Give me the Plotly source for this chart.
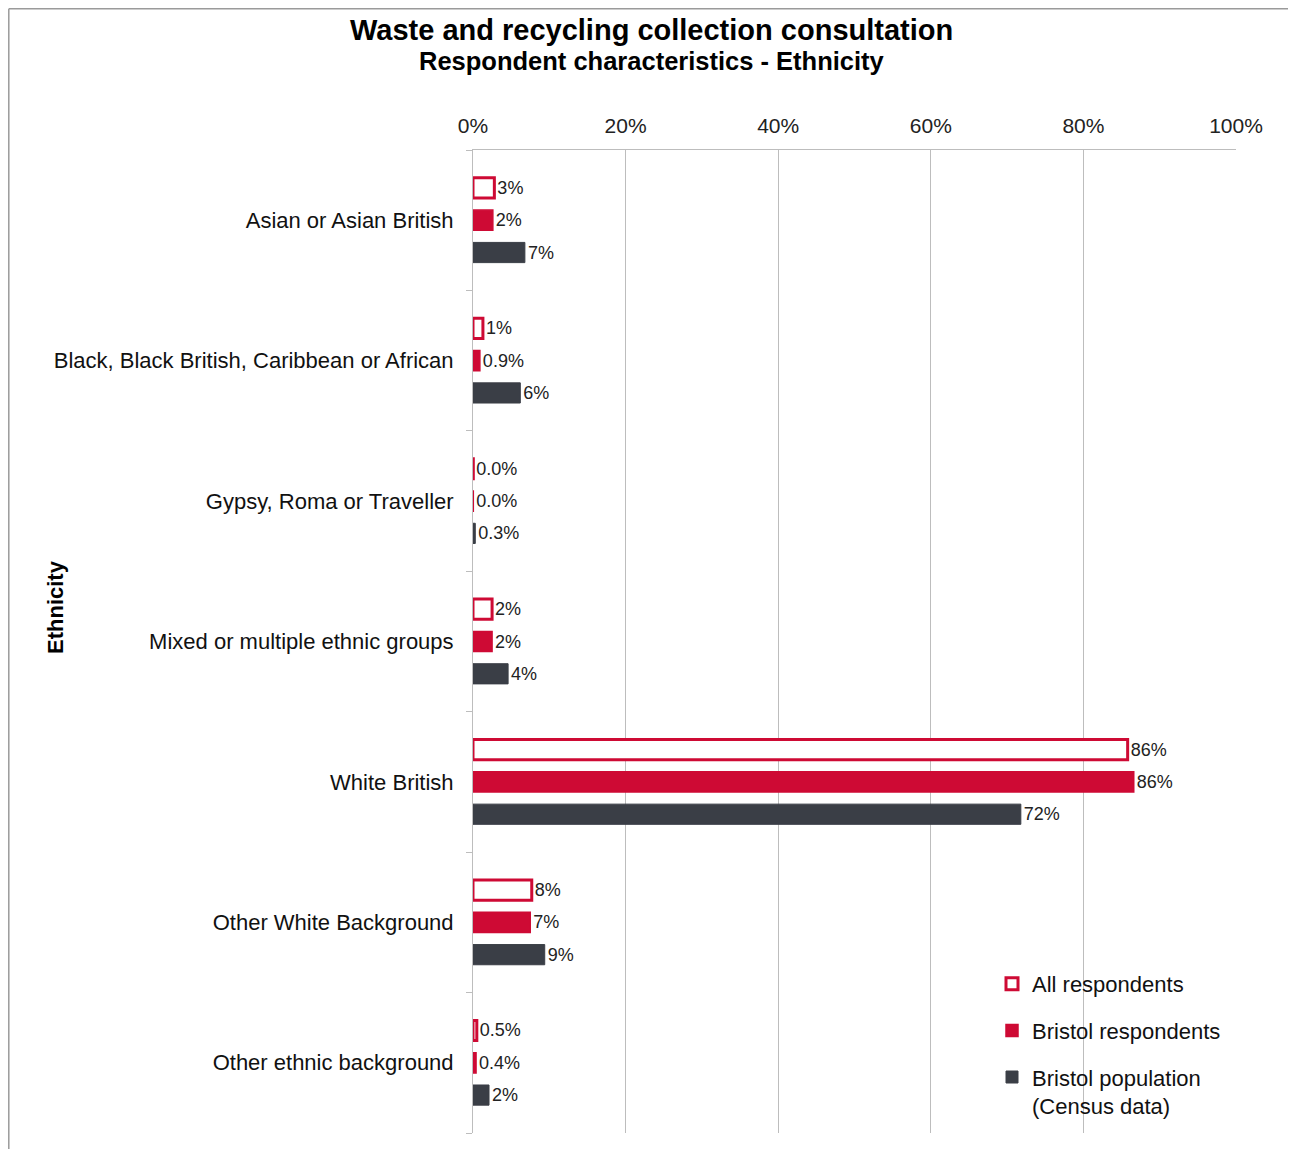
import plotly.graph_objects as go

categories = [
    "Asian or Asian British",
    "Black, Black British, Caribbean or African",
    "Gypsy, Roma or Traveller",
    "Mixed or multiple ethnic groups",
    "White British",
    "Other White Background",
    "Other ethnic background",
]
all_resp = [2.8, 1.3, 0.04, 2.5, 85.8, 7.7, 0.5]
all_labels = ["3%", "1%", "0.0%", "2%", "86%", "8%", "0.5%"]
bristol_resp = [2.6, 0.9, 0.04, 2.5, 86.6, 7.5, 0.4]
bristol_labels = ["2%", "0.9%", "0.0%", "2%", "86%", "7%", "0.4%"]
census = [6.8, 6.2, 0.3, 4.6, 71.8, 9.4, 2.1]
census_labels = ["7%", "6%", "0.3%", "4%", "72%", "9%", "2%"]

x_ticks = [0, 20, 40, 60, 80, 100]

RED = "#CE0A34"
DARK = "#3A3E46"
FONT = "Liberation Sans, Arial, sans-serif"

# page geometry (the page body adds an 8px offset)
OFF = 8
W, H = 1288, 1141
PL, PR, PT, PB = 473, 1236, 150, 1133  # plot area in page pixels
pw, ph = PR - PL, PB - PT


def px(x):
    return (x - PL) / pw


def py(y):
    return (PB - y) / ph


ypos = list(range(len(categories)))
lab_font = dict(size=18, color="#222", family=FONT)

fig = go.Figure()
fig.add_trace(go.Bar(
    y=ypos, x=all_resp, orientation="h", name="All respondents",
    marker=dict(color="white", line=dict(color=RED, width=3)),
    text=all_labels, textposition="outside", constraintext="none",
    textfont=lab_font, cliponaxis=False, legendgroup="a",
))
fig.add_trace(go.Bar(
    y=ypos, x=bristol_resp, orientation="h", name="Bristol respondents",
    marker=dict(color=RED, line=dict(color=RED, width=1.5)),
    text=bristol_labels, textposition="outside", constraintext="none",
    textfont=lab_font, cliponaxis=False, legendgroup="b",
))
fig.add_trace(go.Bar(
    y=ypos, x=census, orientation="h", name="Bristol population<br>(Census data)",
    marker=dict(color=DARK, line=dict(color=DARK, width=1)),
    text=census_labels, textposition="outside", constraintext="none",
    textfont=lab_font, cliponaxis=False, legendgroup="c",
))

fig.update_layout(
    width=W, height=H,
    margin=dict(l=PL - OFF, r=OFF + W - PR, t=PT - OFF, b=OFF + H - PB),
    paper_bgcolor="white", plot_bgcolor="white",
    font=dict(family=FONT, color="#111"),
    barmode="group", bargap=0.31, bargroupgap=0.375,
    xaxis=dict(
        side="top", range=[0, 100], tickvals=x_ticks,
        ticktext=[f"{v}%" for v in x_ticks],
        tickfont=dict(size=21, family=FONT, color="#222"),
        ticks="", ticklabelstandoff=8,
        showgrid=True, gridcolor="#BDBDBD", gridwidth=1,
        showline=True, linecolor="#BDBDBD", linewidth=1,
        zeroline=False, fixedrange=True,
    ),
    yaxis=dict(
        range=[6.5, -0.5], tickvals=ypos, ticktext=categories,
        tickfont=dict(size=22, family=FONT, color="#111"),
        ticks="", ticklabelstandoff=14,
        showline=True, linecolor="#BDBDBD", linewidth=1,
        showgrid=False, zeroline=False,
        minor=dict(tickmode="linear", tick0=0.5, dtick=1, ticks="outside",
                   ticklen=6, tickcolor="#BDBDBD", showgrid=False),
    ),
    showlegend=True,
    legend=dict(
        x=px(992), xanchor="left", y=py(963), yanchor="top",
        font=dict(size=22, family=FONT, color="#111"),
        tracegroupgap=15, itemwidth=30, valign="top",
        bgcolor="rgba(0,0,0,0)",
    ),
    annotations=[
        dict(text="<b>Waste and recycling collection consultation</b>",
             x=px(651), y=py(30), xref="paper", yref="paper", xanchor="center",
             yanchor="middle", showarrow=False,
             font=dict(size=29, family=FONT, color="black")),
        dict(text="<b>Respondent characteristics - Ethnicity</b>",
             x=px(652), y=py(61), xref="paper", yref="paper", xanchor="center",
             yanchor="middle", showarrow=False,
             font=dict(size=25.5, family=FONT, color="black")),
        dict(text="<b>Ethnicity</b>", x=px(55), y=py(607), xref="paper", yref="paper",
             xanchor="center", yanchor="middle", showarrow=False, textangle=-90,
             font=dict(size=22, family=FONT, color="black")),
    ],
    shapes=[
        dict(type="line", xref="paper", yref="paper",
             x0=px(8.8), x1=px(1300), y0=py(8.8), y1=py(8.8),
             line=dict(color="#9A9A9A", width=1.5)),
        dict(type="line", xref="paper", yref="paper",
             x0=px(8.8), x1=px(8.8), y0=py(8.8), y1=py(1150),
             line=dict(color="#9A9A9A", width=1.5)),
    ],
)

fig.write_html("out.html")
